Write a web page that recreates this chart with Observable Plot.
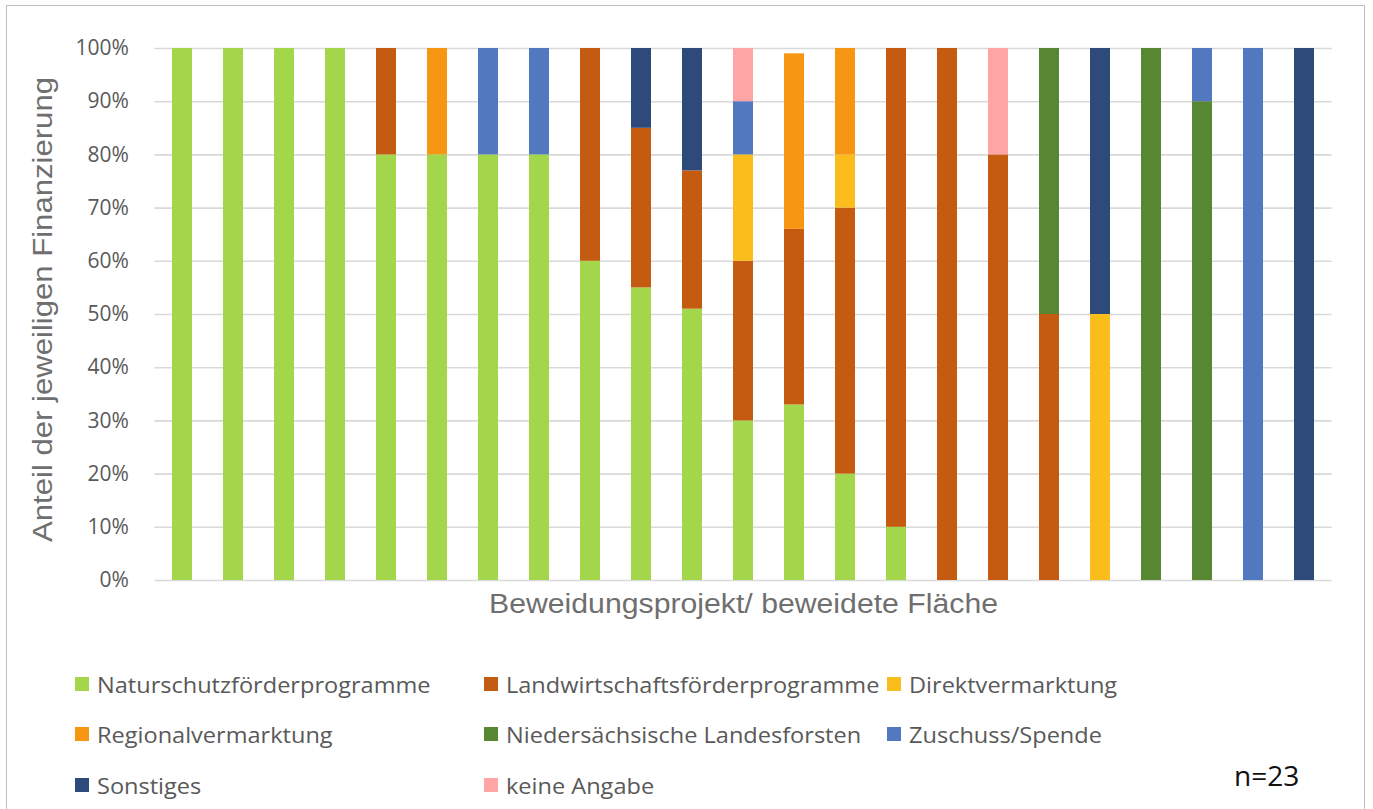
<!DOCTYPE html>
<html>
<head>
<meta charset="utf-8">
<script src="https://cdn.jsdelivr.net/npm/d3@7"></script>
<script src="https://cdn.jsdelivr.net/npm/@observablehq/plot@0.6"></script>
<style>
  html, body { margin: 0; padding: 0; background: #fff; }
  #wrap { position: relative; width: 1373px; height: 809px; overflow: hidden; font-family: "Open Sans", sans-serif; }
  #frame { position: absolute; left: 6px; top: 5px; width: 1359px; height: 820px; border: 1.5px solid #bfbfbf; box-sizing: border-box; }
  #chart { position: absolute; left: 0; top: 0; }
  .leg { position: absolute; display: flex; align-items: center; font-size: 22px; color: #595959; white-space: nowrap; line-height: 1; }
  .leg .sw { width: 14px; height: 14px; margin-right: 8px; flex: none; }
  .leg .tx { display: inline-block; transform: scaleX(1.07); transform-origin: left center; }
  #n { position: absolute; left: 1234px; top: 762px; font-size: 27px; color: #111; line-height: 1; transform: scaleX(1.04); transform-origin: left center; }
</style>
</head>
<body>
<div id="wrap">
  <div id="frame"></div>
  <div id="chart"></div>
  <div id="legend"></div>
  <div id="n">n=23</div>
</div>
<script>
// Projects (bars)
const projects = d3.range(1, 24);
// Series names and colours (stack order bottom -> top)
const seriesNames = [
  "Naturschutzförderprogramme",
  "Landwirtschaftsförderprogramme",
  "Direktvermarktung",
  "Regionalvermarktung",
  "Niedersächsische Landesforsten",
  "Zuschuss/Spende",
  "Sonstiges",
  "keine Angabe"
];
const seriesColors = ["#a3d64a", "#c55a11", "#fbbd1b", "#f69613", "#578733", "#5279bf", "#2e4a7a", "#ffa5a5"];

// Values in percent per project (1..23)
const naturschutz   = [100,100,100,100,80,80,80,80,60,55,51,30,33,20,10,0,0,0,0,0,0,0,0];
const landwirtschaft= [0,0,0,0,20,0,0,0,40,30,26,30,33,50,90,100,80,50,0,0,0,0,0];
const direkt        = [0,0,0,0,0,0,0,0,0,0,0,20,0,10,0,0,0,0,50,0,0,0,0];
const regional      = [0,0,0,0,0,20,0,0,0,0,0,0,33,20,0,0,0,0,0,0,0,0,0];
const landesforsten = [0,0,0,0,0,0,0,0,0,0,0,0,0,0,0,0,0,50,0,100,90,0,0];
const zuschuss      = [0,0,0,0,0,0,20,20,0,0,0,10,0,0,0,0,0,0,0,0,10,100,0];
const sonstiges     = [0,0,0,0,0,0,0,0,0,15,23,0,0,0,0,0,0,0,50,0,0,0,100];
const keineAngabe   = [0,0,0,0,0,0,0,0,0,0,0,10,0,0,0,0,20,0,0,0,0,0,0];

const yTicks = [0,10,20,30,40,50,60,70,80,90,100];
const yTitle = "Anteil der jeweiligen Finanzierung";
const xTitle = "Beweidungsprojekt/ beweidete Fläche";

const seriesValues = [naturschutz, landwirtschaft, direkt, regional, landesforsten, zuschuss, sonstiges, keineAngabe];
const rows = [];
seriesNames.forEach((s, i) => {
  projects.forEach((p, j) => {
    const v = seriesValues[i][j];
    if (v > 0) rows.push({project: p, series: s, value: v});
  });
});

const chart = Plot.plot({
  width: 1373,
  height: 640,
  marginTop: 48,
  marginBottom: 60,
  marginLeft: 154.4,
  marginRight: 41.4,
  style: {fontFamily: "'Open Sans', sans-serif", background: "transparent"},
  x: {domain: projects, paddingInner: 0.603, paddingOuter: 0.3015, axis: null},
  y: {domain: [0, 100], axis: null},
  color: {domain: seriesNames, range: seriesColors},
  marks: [
    Plot.ruleY(yTicks, {stroke: "#d9d9d9", strokeWidth: 1.6}),
    Plot.axisY({ticks: yTicks, tickSize: 0, tickPadding: 26, tickFormat: d => d + "%", fontSize: 21, fill: "#595959", label: null}),
    Plot.barY(rows, Plot.stackY({x: "project", y: "value", fill: "series", order: null})),
    Plot.text([yTitle], {text: d => d, frameAnchor: "left", dx: -112, dy: -5, rotate: -90, fontSize: 27, fill: "#6f6f6f", fontFamily: "'Liberation Sans', Arial, sans-serif", textAnchor: "middle", lineAnchor: "middle", className: "ytitle"}),
    Plot.text([xTitle], {text: d => d, frameAnchor: "bottom", dy: 24, fontSize: 27, fill: "#6f6f6f", fontFamily: "'Liberation Sans', Arial, sans-serif", lineAnchor: "middle", className: "xtitle"})
  ]
});
document.getElementById("chart").appendChild(chart);
// stretch the titles horizontally like the reference
d3.select(chart).selectAll("g.ytitle text").attr("textLength", 465).attr("lengthAdjust", "spacingAndGlyphs");
d3.select(chart).selectAll("g.xtitle text").attr("textLength", 509).attr("lengthAdjust", "spacingAndGlyphs");

// Legend (HTML below the svg)
const legPos = [
  [75, 684], [484, 684], [887, 684],
  [75, 734], [484, 734], [887, 734],
  [75, 785], [484, 785]
];
const legend = document.getElementById("legend");
seriesNames.forEach((s, i) => {
  const el = document.createElement("div");
  el.className = "leg";
  el.style.left = legPos[i][0] + "px";
  el.style.top = (legPos[i][1] - 12) + "px";
  el.style.height = "24px";
  const sw = document.createElement("span");
  sw.className = "sw";
  sw.style.background = seriesColors[i];
  const tx = document.createElement("span");
  tx.className = "tx";
  tx.textContent = s;
  el.appendChild(sw);
  el.appendChild(tx);
  legend.appendChild(el);
});
</script>
</body>
</html>
